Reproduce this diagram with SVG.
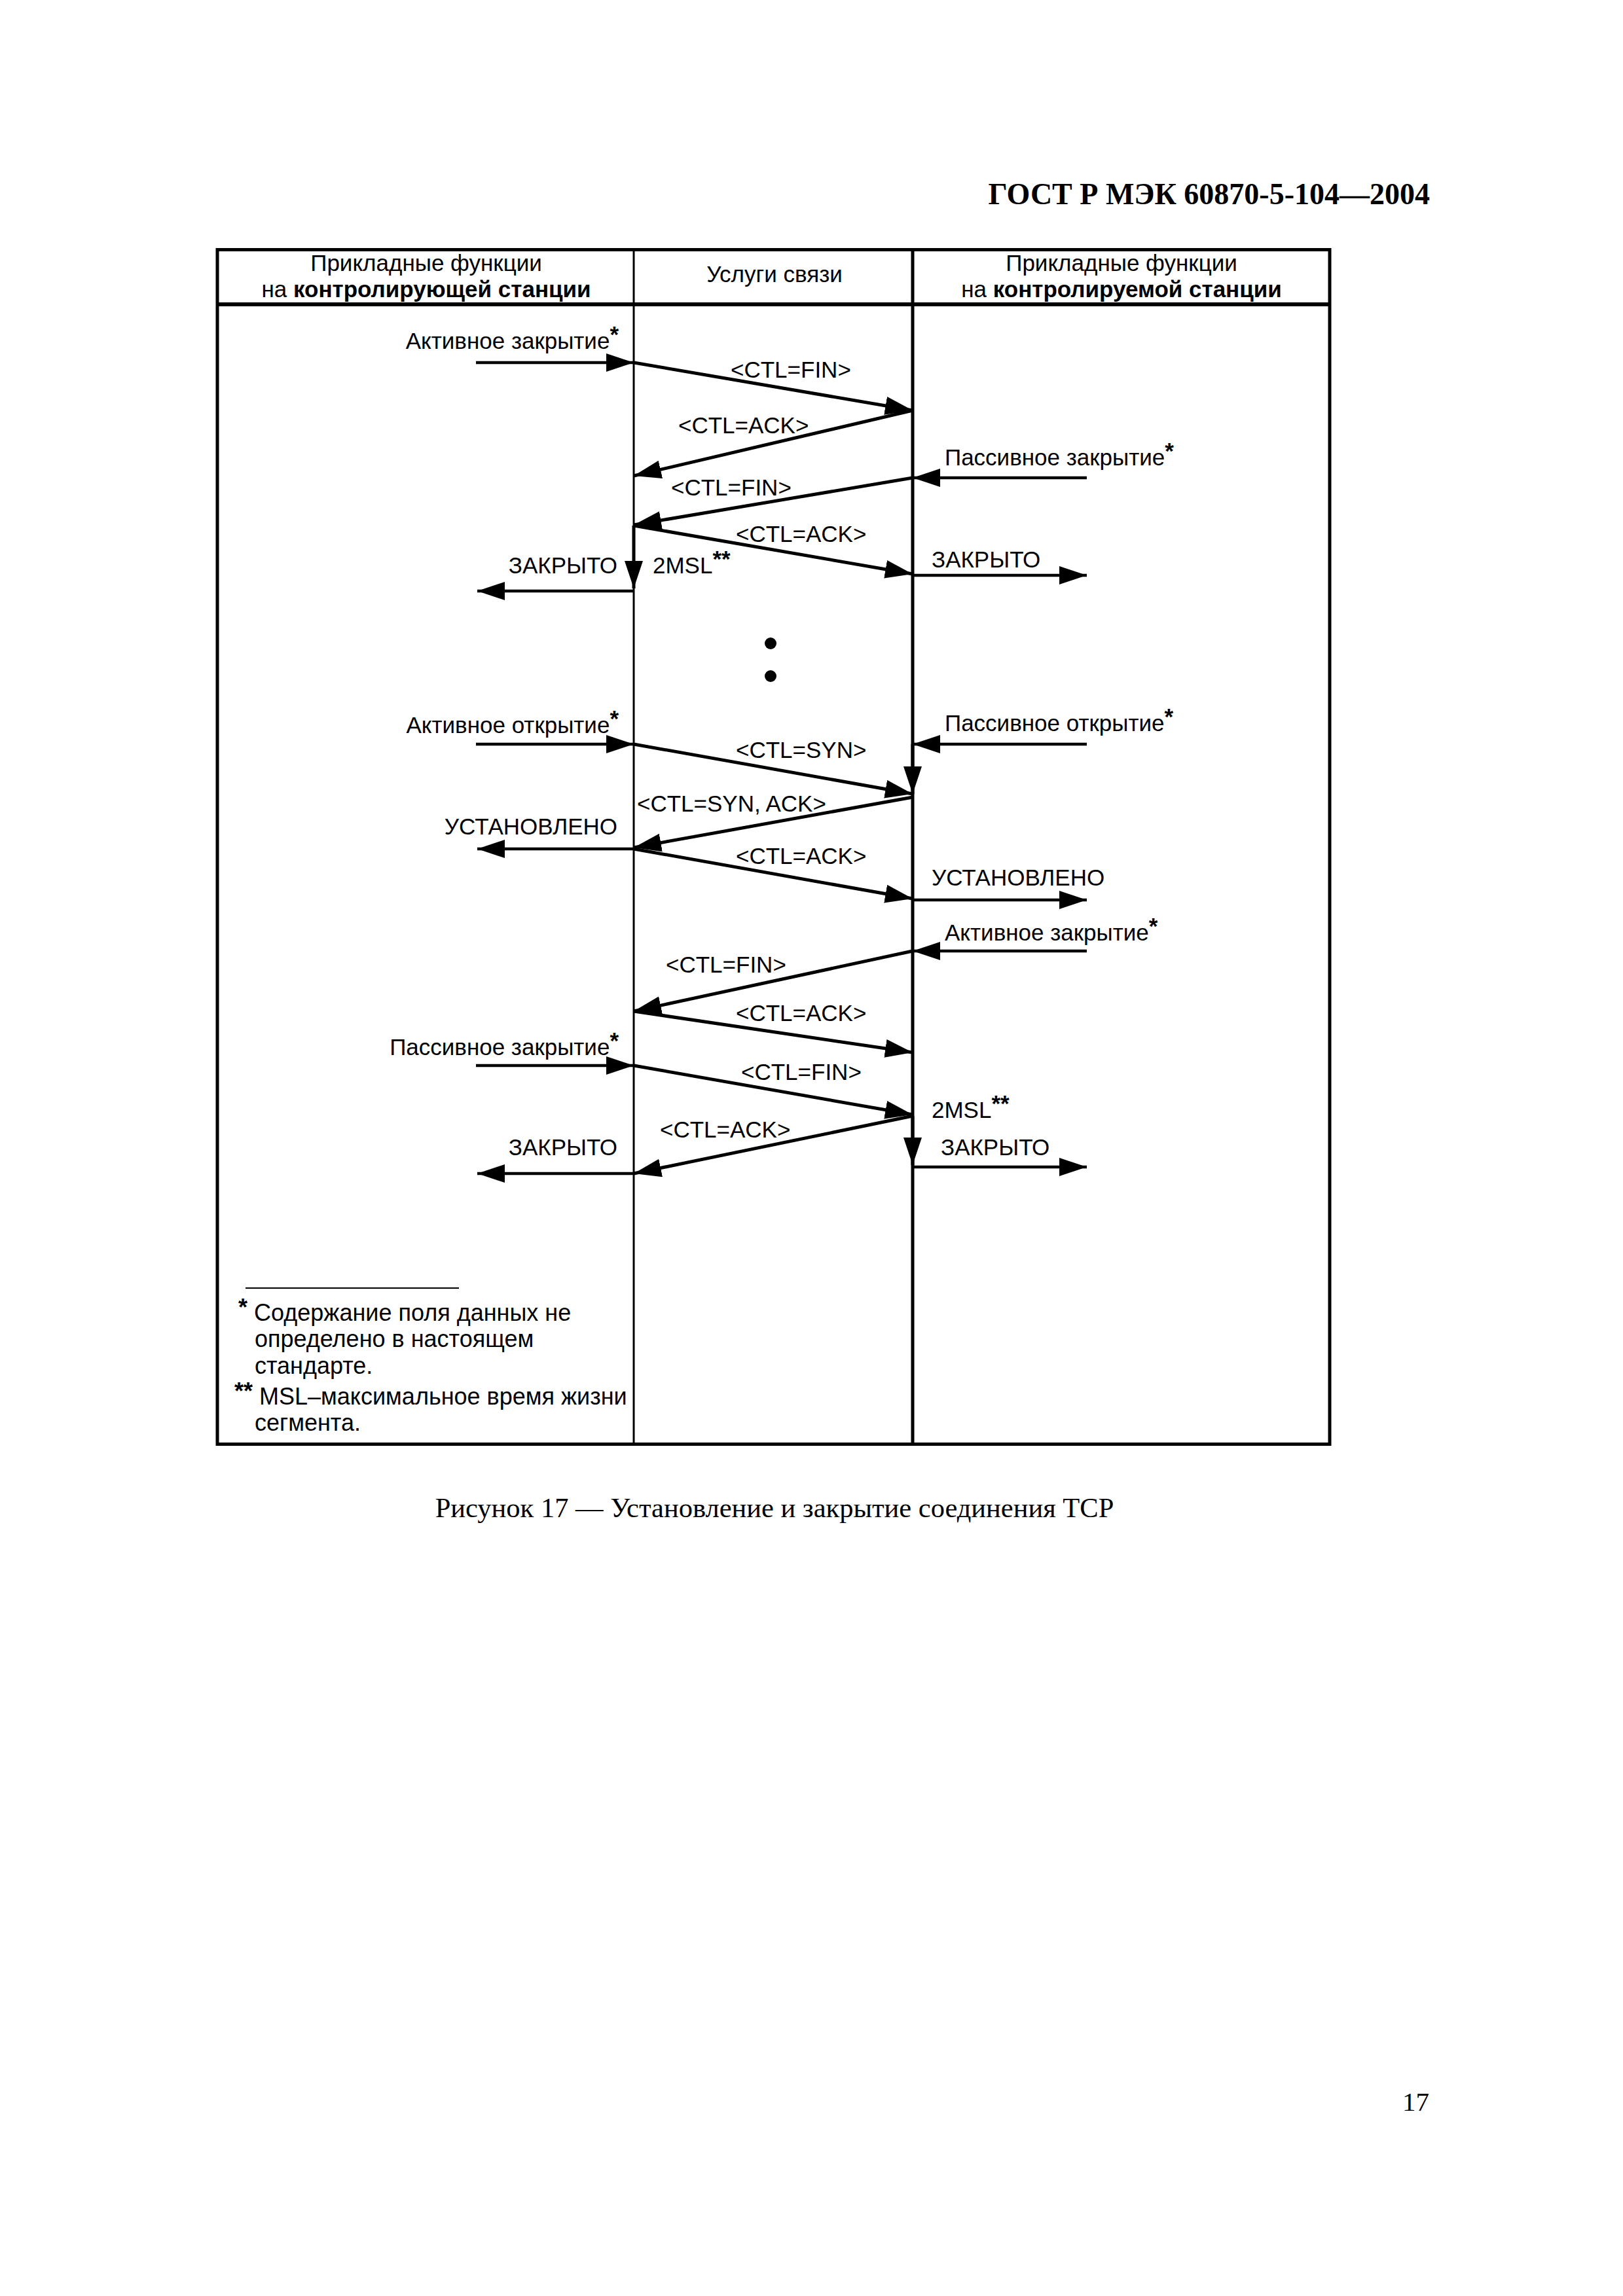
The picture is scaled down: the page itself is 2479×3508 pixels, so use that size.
<svg xmlns="http://www.w3.org/2000/svg" width="2479" height="3508" viewBox="0 0 2479 3508">
<style>
text{font-family:"Liberation Sans",Arial,sans-serif;font-size:35px;fill:#000}
.serif{font-family:"Liberation Serif","Times New Roman",serif}
.title{font-size:46px;font-weight:bold}
.cap{font-size:42.5px}
.pg{font-size:41px}
.fn{font-size:36px}
.b{font-weight:bold}
.st{font-weight:bold}
.msg{stroke:#000;stroke-width:5;fill:none;marker-end:url(#ah)}
.io{stroke:#000;stroke-width:4.5;fill:none;marker-end:url(#ah)}
.frame{stroke:#000;fill:none}
</style>
<defs>
<marker id="ah" markerUnits="userSpaceOnUse" markerWidth="44" markerHeight="30" refX="42" refY="14" orient="auto">
<path d="M0,0 L42,14 L0,28 z" fill="#000"/>
</marker>
</defs>
<rect width="2479" height="3508" fill="#fff"/>

<g id="page-header">
<text class="serif title" x="2184" y="312" text-anchor="end">ГОСТ Р МЭК 60870-5-104—2004</text>
</g>

<g id="table">
<rect class="frame" x="332" y="381.5" width="1699" height="1825" stroke-width="5"/>
<line class="frame" x1="332" y1="465" x2="2031" y2="465" stroke-width="6"/>
<line id="lifeline-left" class="frame" x1="968" y1="381" x2="968" y2="2207" stroke-width="3"/>
<line id="lifeline-mid" class="frame" x1="1394" y1="381" x2="1394" y2="2207" stroke-width="5"/>
</g>

<g id="col-controlling">
<text x="651" y="414" text-anchor="middle">Прикладные функции</text>
<text x="651" y="454" text-anchor="middle">на <tspan class="st">контролирующей станции</tspan></text>
</g>
<g id="col-comm">
<text x="1183" y="431" text-anchor="middle">Услуги связи</text>
</g>
<g id="col-controlled">
<text x="1713" y="414" text-anchor="middle">Прикладные функции</text>
<text x="1713" y="454" text-anchor="middle">на <tspan class="st">контролируемой станции</tspan></text>
</g>

<g id="connectors">
<!-- section 1 -->
<line class="io" x1="727" y1="554" x2="968" y2="554"/>
<line class="msg" x1="968" y1="554" x2="1394" y2="627"/>
<line class="msg" x1="1394" y1="627" x2="968" y2="727"/>
<line class="io" x1="1660" y1="730" x2="1394" y2="730"/>
<line class="msg" x1="1394" y1="730" x2="968" y2="802"/>
<line class="msg" x1="968" y1="803" x2="1394" y2="877"/>
<line class="msg" x1="968" y1="803" x2="968" y2="899"/>
<line class="io" x1="968" y1="903" x2="729" y2="903"/>
<line class="io" x1="1394" y1="879" x2="1660" y2="879"/>
<!-- section 2 -->
<line class="io" x1="727" y1="1137" x2="968" y2="1137"/>
<line class="msg" x1="968" y1="1137" x2="1394" y2="1213"/>
<line class="io" x1="1660" y1="1137" x2="1394" y2="1137"/>
<line class="msg" x1="1394" y1="1137" x2="1394" y2="1213"/>
<line class="msg" x1="1394" y1="1218" x2="968" y2="1295"/>
<line class="io" x1="968" y1="1297" x2="729" y2="1297"/>
<line class="msg" x1="968" y1="1297" x2="1394" y2="1373"/>
<line class="io" x1="1394" y1="1375" x2="1660" y2="1375"/>
<!-- section 3 -->
<line class="io" x1="1660" y1="1453" x2="1394" y2="1453"/>
<line class="msg" x1="1394" y1="1453" x2="968" y2="1545"/>
<line class="msg" x1="968" y1="1545" x2="1394" y2="1608"/>
<line class="io" x1="727" y1="1628" x2="968" y2="1628"/>
<line class="msg" x1="968" y1="1628" x2="1394" y2="1703"/>
<line class="msg" x1="1394" y1="1705" x2="968" y2="1793"/>
<line class="msg" x1="1394" y1="1705" x2="1394" y2="1780"/>
<line class="io" x1="1394" y1="1783" x2="1660" y2="1783"/>
<line class="io" x1="968" y1="1793" x2="729" y2="1793"/>
</g>

<g id="dots">
<circle cx="1177" cy="983" r="9"/>
<circle cx="1177" cy="1033" r="9"/>
</g>

<g id="labels">
<text x="945" y="533" text-anchor="end">Активное закрытие<tspan class="b" dy="-10">*</tspan></text>
<text x="1116" y="577">&lt;CTL=FIN&gt;</text>
<text x="1036" y="662">&lt;CTL=ACK&gt;</text>
<text x="1443" y="711">Пассивное закрытие<tspan class="b" dy="-10">*</tspan></text>
<text x="1025" y="757">&lt;CTL=FIN&gt;</text>
<text x="1124" y="828">&lt;CTL=ACK&gt;</text>
<text x="943" y="876" text-anchor="end">ЗАКРЫТО</text>
<text x="997" y="876">2MSL<tspan class="b" dy="-10">**</tspan></text>
<text x="1423" y="867">ЗАКРЫТО</text>

<text x="945" y="1120" text-anchor="end">Активное открытие<tspan class="b" dy="-10">*</tspan></text>
<text x="1124" y="1158">&lt;CTL=SYN&gt;</text>
<text x="1443" y="1117">Пассивное открытие<tspan class="b" dy="-10">*</tspan></text>
<text x="973" y="1240">&lt;CTL=SYN, ACK&gt;</text>
<text x="943" y="1275" text-anchor="end">УСТАНОВЛЕНО</text>
<text x="1124" y="1320">&lt;CTL=ACK&gt;</text>
<text x="1423" y="1353">УСТАНОВЛЕНО</text>

<text x="1443" y="1437">Активное закрытие<tspan class="b" dy="-10">*</tspan></text>
<text x="1017" y="1486">&lt;CTL=FIN&gt;</text>
<text x="1124" y="1560">&lt;CTL=ACK&gt;</text>
<text x="945" y="1612" text-anchor="end">Пассивное закрытие<tspan class="b" dy="-10">*</tspan></text>
<text x="1132" y="1650">&lt;CTL=FIN&gt;</text>
<text x="1423" y="1708">2MSL<tspan class="b" dy="-10">**</tspan></text>
<text x="1008" y="1738">&lt;CTL=ACK&gt;</text>
<text x="1437" y="1765">ЗАКРЫТО</text>
<text x="943" y="1765" text-anchor="end">ЗАКРЫТО</text>
</g>

<g id="footnotes">
<line x1="375" y1="1968" x2="701" y2="1968" stroke="#000" stroke-width="2"/>
<text class="fn" x="364" y="2018"><tspan class="b" dy="-8">*</tspan><tspan dy="8"> Содержание поля данных не</tspan></text>
<text class="fn" x="389" y="2058">определено в настоящем</text>
<text class="fn" x="389" y="2099">стандарте.</text>
<text class="fn" x="358" y="2146"><tspan class="b" dy="-8">**</tspan><tspan dy="8"> MSL–максимальное время жизни</tspan></text>
<text class="fn" x="389" y="2186">сегмента.</text>
</g>

<g id="caption">
<text class="serif cap" x="1183" y="2318" text-anchor="middle">Рисунок 17 — Установление и закрытие соединения TCP</text>
</g>
<g id="page-number">
<text class="serif pg" x="2183" y="3225" text-anchor="end">17</text>
</g>
</svg>
